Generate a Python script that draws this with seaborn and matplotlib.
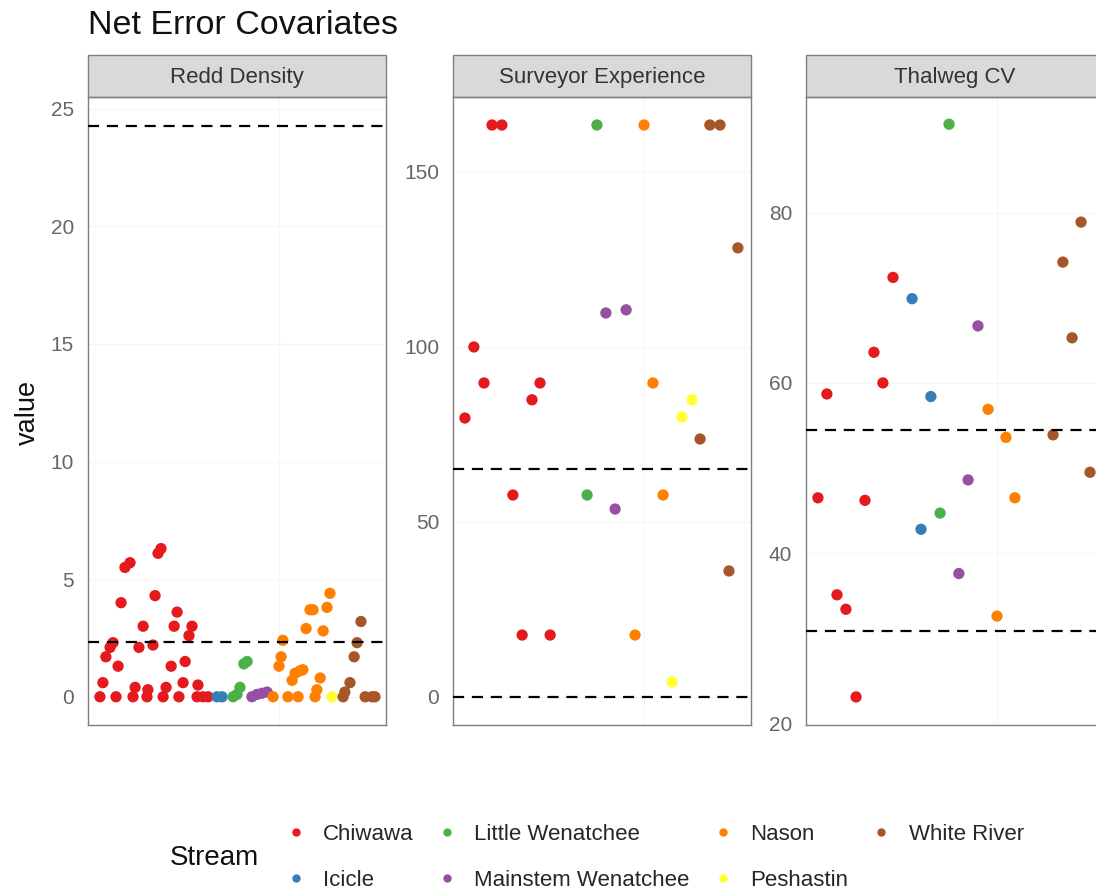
import matplotlib
matplotlib.use("Agg")
import matplotlib.pyplot as plt
from matplotlib.patches import Rectangle
from matplotlib.lines import Line2D
import seaborn as sns
import pandas as pd

sns.set_theme(style="white")
plt.rcParams['font.family'] = ['Liberation Sans', 'DejaVu Sans']

# ---------------- data ----------------
streams = ["Chiwawa", "Icicle", "Little Wenatchee", "Mainstem Wenatchee",
           "Nason", "Peshastin", "White River"]
stream_colors = ["#E41A1C", "#377EB8", "#4DAF4A", "#984EA3",
                 "#FF7F00", "#FFFF33", "#A65628"]
codes = {"CHW": "Chiwawa", "ICI": "Icicle", "LWN": "Little Wenatchee",
         "MWN": "Mainstem Wenatchee", "NAS": "Nason", "PES": "Peshastin",
         "WTR": "White River"}

panel_titles = ["Redd Density", "Surveyor Experience", "Thalweg CV"]

# Redd Density
redd_stream = (["CHW"] * 34 + ["ICI"] * 2 + ["LWN"] * 5 + ["MWN"] * 4 +
               ["NAS"] * 19 + ["PES"] * 1 + ["WTR"] * 9)
redd_x = [4.0, 5.0, 6.0, 7.4, 8.4, 9.4, 10.1, 11.1, 12.4, 14.1, 15.1, 15.8,
          17.1, 18.5, 19.8, 20.1, 21.8, 22.5, 23.5, 24.5, 25.2, 26.2, 27.9,
          28.9, 29.9, 30.5, 31.9, 32.6, 33.9, 34.9, 36.6, 36.9, 38.6, 40.3,
          43.3, 45.0,
          48.7, 50.0, 51.0, 52.3, 53.4,
          55.0, 56.7, 58.4, 60.1,
          62.1, 64.1, 64.8, 65.4, 67.1, 68.5, 69.5, 70.5, 71.1, 72.1, 73.2,
          74.5, 75.5, 76.2, 76.8, 77.9, 78.9, 80.2, 81.2,
          81.9,
          85.6, 86.2, 87.9, 89.3, 90.3, 91.6, 93.0, 95.3, 96.3]
redd_val = [0, 0.6, 1.7, 2.1, 2.3, 0, 1.3, 4.0, 5.5, 5.7, 0, 0.4,
            2.1, 3.0, 0, 0.3, 2.2, 4.3, 6.1, 6.3, 0, 0.4, 1.3,
            3.0, 3.6, 0, 0.6, 1.5, 2.6, 3.0, 0, 0.5, 0, 0,
            0, 0,
            0, 0.1, 0.4, 1.4, 1.5,
            0, 0.1, 0.15, 0.2,
            0, 1.3, 1.7, 2.4, 0, 0.7, 1.0, 0, 1.1, 1.15, 2.9,
            3.7, 3.7, 0, 0.3, 0.8, 2.8, 3.8, 4.4,
            0,
            0, 0.2, 0.6, 1.7, 2.3, 3.2, 0, 0, 0]

# Surveyor Experience
surv_stream = (["CHW"] * 10 + ["LWN"] * 2 + ["MWN"] * 3 + ["NAS"] * 4 +
               ["PES"] * 3 + ["WTR"] * 5)
surv_x = [4.0, 7.0, 10.4, 13.1, 16.4, 20.1, 23.2, 26.5, 29.2, 32.6,
          45.0, 48.3,
          51.3, 54.4, 58.1,
          61.1, 64.1, 67.1, 70.5,
          73.5, 76.8, 80.2,
          82.9, 86.2, 89.6, 92.6, 95.6]
surv_val = [79.7, 100, 89.7, 163.4, 163.4, 57.7, 17.7, 84.9, 89.7, 17.7,
            57.7, 163.4,
            109.7, 53.7, 110.6,
            17.7, 163.4, 89.7, 57.7,
            4.3, 80.0, 84.9,
            73.7, 163.4, 163.4, 36.0, 128.3]

# Thalweg CV
thal_stream = (["CHW"] * 9 + ["ICI"] * 3 + ["LWN"] * 2 + ["MWN"] * 3 +
               ["NAS"] * 4 + ["WTR"] * 5)
thal_x = [4.0, 7.0, 10.4, 13.4, 16.8, 19.8, 22.8, 25.8, 29.2,
          35.6, 38.6, 41.9,
          45.0, 48.0,
          51.3, 54.4, 57.7,
          61.1, 64.1, 67.1, 70.1,
          82.9, 86.2, 89.3, 92.3, 95.3]
thal_val = [46.5, 58.7, 35.1, 33.4, 23.1, 46.2, 63.6, 60.0, 72.4,
            69.9, 42.8, 58.4,
            44.7, 90.4,
            37.6, 48.6, 66.7,
            56.9, 32.6, 53.6, 46.5,
            53.9, 74.2, 65.3, 78.9, 49.5]

# dashed reference lines per panel
redd_ref = [24.28, 2.34]
surv_ref = [65.1, 0.0]
thal_ref = [54.5, 30.9]

# axis ticks per panel
redd_ticks = [0, 5, 10, 15, 20, 25]
surv_ticks = [0, 50, 100, 150]
thal_ticks = [20, 40, 60, 80]

# ---------------- figure ----------------
W, H = 1096, 890
fig = plt.figure(figsize=(W / 100, H / 100), dpi=100)
palette = dict(zip(streams, stream_colors))

panels = [
    (redd_stream, redd_x, redd_val, redd_ref, redd_ticks, (-1.2, 25.5)),
    (surv_stream, surv_x, surv_val, surv_ref, surv_ticks, (-8.0, 171.4)),
    (thal_stream, thal_x, thal_val, thal_ref, thal_ticks, (19.8, 93.6)),
]
lefts = [88, 453, 806]
pw, top, bottom = 298, 97, 725
strip_h = 42

for i, (st, xs, vs, refs, ticks, ylim) in enumerate(panels):
    ax = fig.add_axes([lefts[i] / W, 1 - bottom / H, pw / W, (bottom - top) / H])
    df = pd.DataFrame({"x": xs, "value": vs, "Stream": [codes[c] for c in st]})
    ax.set_xlim(0, 100)
    ax.set_ylim(*ylim)
    ax.set_yticks(ticks)
    ax.set_xticks([64])
    ax.grid(True, color="#F6F6F6", lw=0.8)
    ax.set_axisbelow(True)
    sns.scatterplot(data=df, x="x", y="value", hue="Stream", palette=palette,
                    s=66, linewidth=0, legend=False, ax=ax, zorder=3)
    for r in refs:
        ax.axhline(r, color="black", lw=1.6, ls=(0, (5, 3.5)), zorder=4)
    ax.set_xlabel("")
    ax.set_ylabel("")
    ax.set_xticklabels([])
    ax.tick_params(axis="x", length=0)
    ax.tick_params(axis="y", length=0, labelsize=15, labelcolor="#666666", pad=10)
    for sp in ax.spines.values():
        sp.set_color("#7f7f7f")
        sp.set_linewidth(1.0)
    ax.add_patch(Rectangle((0, 1), 1, strip_h / (bottom - top),
                           transform=ax.transAxes, clip_on=False,
                           facecolor="#D9D9D9", edgecolor="#7f7f7f", lw=1.0))
    ax.text(0.5, 1 + (strip_h / 2 - 2) / (bottom - top), panel_titles[i],
            transform=ax.transAxes, ha="center", va="center",
            fontsize=16, color="#333333")

fig.text(88 / W, 1 - 25 / H, "Net Error Covariates", fontsize=24.5,
         ha="left", va="center", color="#111111")
fig.text(28 / W, 1 - 412 / H, "value", fontsize=19.5, rotation=90,
         ha="center", va="center", color="#111111")

handles = [Line2D([0], [0], marker="o", color="w", markerfacecolor=c,
                  markeredgewidth=0, markersize=6, label=s)
           for s, c in zip(streams, stream_colors)]
fig.text(170 / W, 1 - 858 / H, "Stream", fontsize=20, ha="left",
         va="center", color="#111111")
fig.legend(handles=handles, ncol=4, loc="center left",
           bbox_to_anchor=(265 / W, 1 - 857.5 / H), frameon=False,
           fontsize=16, handlelength=1.0, handletextpad=0.72,
           columnspacing=1.0, labelspacing=1.15)

fig.savefig("out.png", dpi=100)
